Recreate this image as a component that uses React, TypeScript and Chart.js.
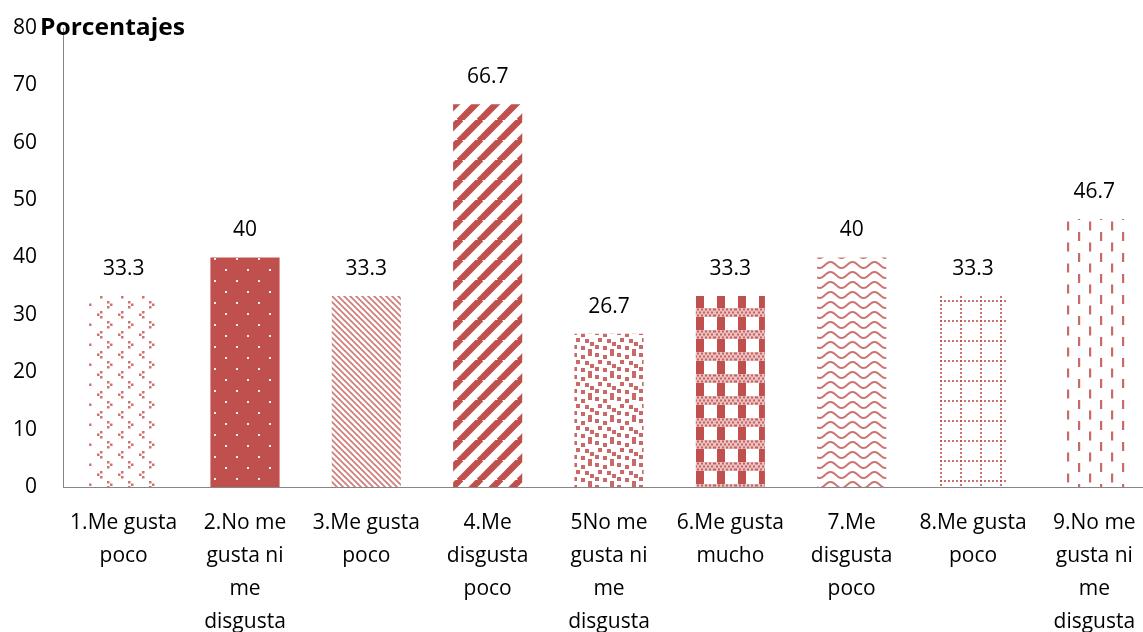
import React, { useEffect, useRef } from "react";
import { Chart, registerables } from "chart.js";

Chart.register(...registerables);

const categories: string[][] = [
  ["1.Me gusta", "poco"],
  ["2.No me", "gusta ni", "me", "disgusta"],
  ["3.Me gusta", "poco"],
  ["4.Me", "disgusta", "poco"],
  ["5No me", "gusta ni", "me", "disgusta"],
  ["6.Me gusta", "mucho"],
  ["7.Me", "disgusta", "poco"],
  ["8.Me gusta", "poco"],
  ["9.No me", "gusta ni", "me", "disgusta"],
];
const values: number[] = [33.3, 40, 33.3, 66.7, 26.7, 33.3, 40, 33.3, 46.7];
const valueLabels: string[] = ["33.3", "40", "33.3", "66.7", "26.7", "33.3", "40", "33.3", "46.7"];
const yMin = 0;
const yMax = 80;
const yStep = 10;
const yTitle = "Porcentajes";

const RED = "#C0504D";
const FONT = "'Open Sans', 'Noto Sans', sans-serif";

function makeTile(
  ctx: CanvasRenderingContext2D,
  w: number,
  h: number,
  bg: string | null,
  draw: (c: CanvasRenderingContext2D) => void
): CanvasPattern {
  const off = document.createElement("canvas");
  off.width = w;
  off.height = h;
  const c = off.getContext("2d")!;
  if (bg) {
    c.fillStyle = bg;
    c.fillRect(0, 0, w, h);
  }
  c.fillStyle = RED;
  c.strokeStyle = RED;
  draw(c);
  return ctx.createPattern(off, "repeat")!;
}

function buildPatterns(ctx: CanvasRenderingContext2D): CanvasPattern[] {
  // 1: small chevrons
  const p1 = makeTile(ctx, 21, 20, "#ffffff", (c) => {
    c.globalAlpha = 0.8;
    c.fillRect(2, 1, 2.5, 2.5);
    c.fillRect(5, 3.5, 2.5, 2.5);
    c.fillRect(2, 6, 2.5, 2.5);
    c.fillRect(16, 11, 2.5, 2.5);
    c.fillRect(13, 13.5, 2.5, 2.5);
    c.fillRect(16, 16, 2.5, 2.5);
  });
  // 2: solid with white dots
  const p2 = makeTile(ctx, 22, 22, RED, (c) => {
    c.fillStyle = "#ffffff";
    c.globalAlpha = 0.9;
    c.fillRect(5, 5, 2, 2);
    c.fillRect(16, 16, 2, 2);
  });
  // 3: thin downward diagonals
  const p3 = makeTile(ctx, 6, 6, "#ffffff", (c) => {
    c.globalAlpha = 0.75;
    c.lineWidth = 1.7;
    for (let k = -1; k <= 1; k++) {
      c.beginPath();
      c.moveTo(k * 6 - 1, -1);
      c.lineTo(k * 6 + 7, 7);
      c.stroke();
    }
  });
  // 4: wide upward diagonals
  const p4 = makeTile(ctx, 20, 20, "#ffffff", (c) => {
    c.lineWidth = 6.5;
    for (let k = -1; k <= 1; k++) {
      c.beginPath();
      c.moveTo(k * 20 - 1, 21);
      c.lineTo(k * 20 + 21, -1);
      c.stroke();
    }
  });
  // 5: confetti squares
  const p5 = makeTile(ctx, 22, 22, "#ffffff", (c) => {
    c.globalAlpha = 0.85;
    const pts = [
      [1, 1], [9, 3], [16, 0], [4, 8], [13, 9], [18, 12], [1, 15], [9, 16], [16, 19],
    ];
    pts.forEach(([x, y]) => c.fillRect(x, y, 4, 4));
  });
  // 6: plaid / weave
  const p6 = makeTile(ctx, 21, 22, "#ffffff", (c) => {
    c.globalAlpha = 0.35;
    c.fillRect(0, 0, 21, 9);
    c.globalAlpha = 0.85;
    for (let row = 0; row < 3; row++) {
      for (let x = row % 2 === 0 ? 0 : 2; x < 21; x += 4) {
        c.fillRect(x, row * 3 + 0.5, 2, 2);
      }
    }
    c.globalAlpha = 1;
    c.fillRect(3, 9, 8, 13);
  });
  // 7: waves
  const p7 = makeTile(ctx, 22, 10, "#ffffff", (c) => {
    c.globalAlpha = 0.8;
    c.lineWidth = 2;
    c.beginPath();
    for (let x = -1; x <= 23; x += 0.5) {
      const y = 5 + 3 * Math.sin((2 * Math.PI * x) / 22);
      if (x === -1) c.moveTo(x, y);
      else c.lineTo(x, y);
    }
    c.stroke();
  });
  // 8: dotted grid
  const p8 = makeTile(ctx, 20, 20, "#ffffff", (c) => {
    c.globalAlpha = 0.8;
    for (let i = 0; i < 20; i += 4) {
      c.fillRect(0, i, 2, 2);
      c.fillRect(i, 0, 2, 2);
    }
  });
  // 9: vertical dashes
  const p9 = makeTile(ctx, 22, 21, "#ffffff", (c) => {
    c.globalAlpha = 0.85;
    c.fillRect(0, 1, 2.2, 9);
    c.fillRect(11, 11.5, 2.2, 9);
  });
  return [p1, p2, p3, p4, p5, p6, p7, p8, p9];
}

const labelPlugin = {
  id: "valueLabels",
  afterDatasetsDraw(chart: any) {
    const ctx = chart.ctx as CanvasRenderingContext2D;
    const meta = chart.getDatasetMeta(0);
    ctx.save();
    ctx.font = `21px ${FONT}`;
    ctx.fillStyle = "#000000";
    ctx.textAlign = "center";
    ctx.textBaseline = "middle";
    meta.data.forEach((bar: any, i: number) => {
      ctx.fillText(valueLabels[i], bar.x, bar.y - 27);
    });
    ctx.restore();
  },
};

const titlePlugin = {
  id: "axisTitle",
  afterDraw(chart: any) {
    const ctx = chart.ctx as CanvasRenderingContext2D;
    ctx.save();
    ctx.font = `bold 24px ${FONT}`;
    ctx.fillStyle = "#000000";
    ctx.textAlign = "left";
    ctx.textBaseline = "alphabetic";
    const w = ctx.measureText(yTitle).width;
    const target = 145;
    ctx.translate(40, 35);
    ctx.scale(target / w, 1);
    ctx.fillText(yTitle, 0, 0);
    ctx.restore();
  },
};

export default function App() {
  const ref = useRef<HTMLCanvasElement | null>(null);

  useEffect(() => {
    document.body.style.margin = "0";
    const canvas = ref.current!;
    const ctx = canvas.getContext("2d")!;
    const patterns = buildPatterns(ctx);
    const chart = new Chart(canvas, {
      type: "bar",
      data: {
        labels: categories,
        datasets: [
          {
            data: values,
            backgroundColor: patterns as any,
            borderWidth: 0,
            barPercentage: 0.57,
            categoryPercentage: 1,
          },
        ],
      },
      options: {
        animation: false,
        responsive: false,
        layout: { padding: { top: 28, right: 0, bottom: 0, left: 0 } },
        plugins: {
          legend: { display: false },
          tooltip: { enabled: false },
          title: { display: false },
        },
        scales: {
          x: {
            grid: { display: false, drawTicks: false },
            border: { display: true, color: "#868686", width: 1 },
            ticks: {
              color: "#000000",
              font: { family: FONT, size: 21, lineHeight: 1.56 },
              maxRotation: 0,
              minRotation: 0,
              autoSkip: false,
              padding: 20,
            },
            afterFit: (scale: any) => {
              scale.height = 632 - 487;
              scale.paddingLeft = 0;
              scale.paddingRight = 0;
              scale.paddingTop = 0;
              scale.paddingBottom = 0;
            },
          },
          y: {
            min: yMin,
            max: yMax,
            grid: { display: false, drawTicks: false },
            border: { display: true, color: "#868686", width: 1 },
            ticks: {
              stepSize: yStep,
              color: "#000000",
              font: { family: FONT, size: 21 },
              padding: 26,
            },
            afterFit: (scale: any) => {
              scale.width = 63;
              scale.paddingTop = 0;
              scale.paddingBottom = 0;
              scale.paddingLeft = 0;
              scale.paddingRight = 0;
            },
          },
        },
      },
      plugins: [labelPlugin, titlePlugin],
    });
    return () => chart.destroy();
  }, []);

  return (
    <div style={{ width: 1143, height: 632, overflow: "hidden", position: "relative", background: "#ffffff" }}>
      <canvas ref={ref} width={1155} height={632} style={{ display: "block", position: "absolute", left: 0, top: 0 }} />
    </div>
  );
}
